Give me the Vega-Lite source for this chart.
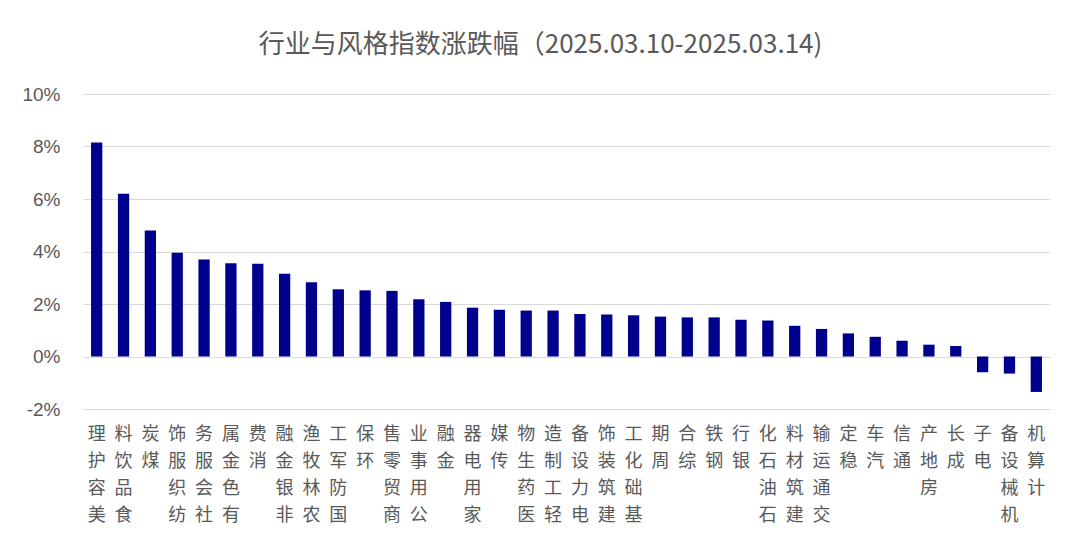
{
  "$schema": "https://vega.github.io/schema/vega-lite/v6.json",
  "autosize": "none",
  "padding": {"left": 83, "top": 94, "right": 30, "bottom": 132},
  "width": 967,
  "height": 315,
  "background": "white",
  "title": {
    "text": "行业与风格指数涨跌幅（2025.03.10-2025.03.14)",
    "anchor": "middle",
    "dx": -26,
    "offset": 27,
    "fontSize": 26,
    "fontWeight": "normal",
    "font": "Noto Sans CJK SC",
    "color": "#595959"
  },
  "data": {
    "values": [
      {"name": "美容护理", "value": 8.15},
      {"name": "食品饮料", "value": 6.2},
      {"name": "煤炭", "value": 4.8},
      {"name": "纺织服饰", "value": 3.95},
      {"name": "社会服务", "value": 3.7},
      {"name": "有色金属", "value": 3.55},
      {"name": "消费", "value": 3.53},
      {"name": "非银金融", "value": 3.15},
      {"name": "农林牧渔", "value": 2.83},
      {"name": "国防军工", "value": 2.56},
      {"name": "环保", "value": 2.52},
      {"name": "商贸零售", "value": 2.5},
      {"name": "公用事业", "value": 2.18},
      {"name": "金融", "value": 2.08},
      {"name": "家用电器", "value": 1.86},
      {"name": "传媒", "value": 1.78},
      {"name": "医药生物", "value": 1.75},
      {"name": "轻工制造", "value": 1.75},
      {"name": "电力设备", "value": 1.62},
      {"name": "建筑装饰", "value": 1.6},
      {"name": "基础化工", "value": 1.57},
      {"name": "周期", "value": 1.52},
      {"name": "综合", "value": 1.49},
      {"name": "钢铁", "value": 1.49},
      {"name": "银行", "value": 1.4},
      {"name": "石油石化", "value": 1.37},
      {"name": "建筑材料", "value": 1.17},
      {"name": "交通运输", "value": 1.05},
      {"name": "稳定", "value": 0.88},
      {"name": "汽车", "value": 0.75},
      {"name": "通信", "value": 0.6},
      {"name": "房地产", "value": 0.45},
      {"name": "成长", "value": 0.4},
      {"name": "电子", "value": -0.6},
      {"name": "机械设备", "value": -0.65},
      {"name": "计算机", "value": -1.35}
    ]
  },
  "mark": {"type": "bar", "color": "#00008F"},
  "encoding": {
    "x": {
      "field": "name",
      "type": "nominal",
      "sort": null,
      "scale": {"paddingInner": 0.58, "paddingOuter": 0.3},
      "axis": {
        "title": null,
        "domain": false,
        "ticks": false,
        "labelAngle": 0,
        "labelAlign": "center",
        "labelBaseline": "top",
        "labelPadding": 16,
        "labelFontSize": 18,
        "labelLineHeight": 27,
        "labelFont": "Noto Sans CJK SC",
        "labelColor": "#595959",
        "labelExpr": "reverse(split(datum.label, ''))"
      }
    },
    "y": {
      "field": "value",
      "type": "quantitative",
      "scale": {"domain": [-2, 10], "nice": false},
      "axis": {
        "title": null,
        "values": [-2, 0, 2, 4, 6, 8, 10],
        "domain": false,
        "ticks": false,
        "labelPadding": 23,
        "labelFontSize": 19,
        "labelFont": "Liberation Sans",
        "labelColor": "#595959",
        "labelExpr": "datum.value + '%'",
        "gridColor": "#d9d9d9",
        "gridWidth": 1
      }
    }
  },
  "config": {"view": {"stroke": null}}
}
